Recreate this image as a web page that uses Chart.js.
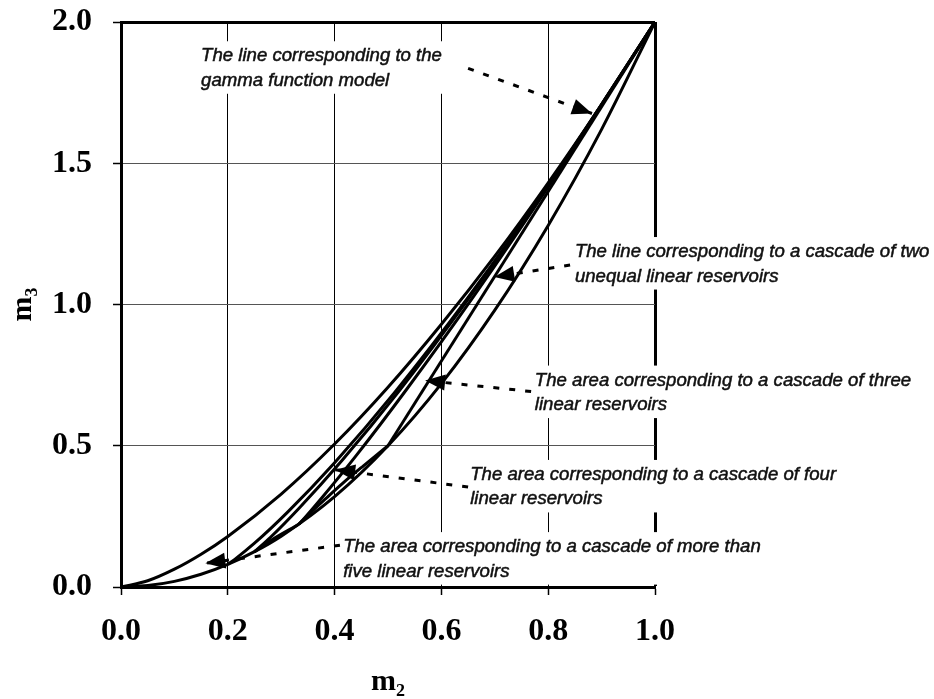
<!DOCTYPE html>
<html>
<head>
<meta charset="utf-8">
<script src="https://cdn.jsdelivr.net/npm/chart.js@4.4.1/dist/chart.umd.min.js"></script>
<style>
  html, body { margin: 0; padding: 0; background: #fff; }
</style>
</head>
<body>
<canvas id="chart" width="934" height="699"></canvas>
<script>
// ─── Values (m2 on x, m3 on y) ───────────────────────────────────────────────

const xTicks = [0, 0.2, 0.4, 0.6, 0.8, 1.0];
const yTicks = [0, 0.5, 1.0, 1.5, 2.0];

// upper envelope of all cascades
const upperM2 = [0, 0.05, 0.1, 0.15, 0.2, 0.3, 0.4, 0.5, 0.6, 0.7, 0.8, 0.9, 1.0];
const upperM3 = [0, 0.022, 0.063, 0.116, 0.179, 0.329, 0.506, 0.707, 0.930, 1.171, 1.431, 1.708, 2.0];

// gamma function model
const gammaM2 = [0, 0.05, 0.1, 0.15, 0.2, 0.25, 0.3, 0.4, 0.5, 0.6, 0.7, 0.8, 0.9, 1.0];
const gammaM3 = [0, 0.005, 0.02, 0.045, 0.08, 0.125, 0.18, 0.32, 0.5, 0.72, 0.98, 1.28, 1.62, 2.0];

// cascade of two unequal reservoirs
const twoM2 = [0.5, 1.0];
const twoM3 = [0.5, 2.0];

// cascade of three: upper and lower edges
const threeM2 = [0.333, 0.34, 0.375, 0.44, 0.535, 0.66, 0.815, 1.0];
const threeM3 = [0.222, 0.236, 0.313, 0.464, 0.70, 1.028, 1.459, 2.0];
const threeLowM2 = [0.333, 0.344, 0.36, 0.384, 0.415, 0.454, 0.5];
const threeLowM3 = [0.222, 0.242, 0.272, 0.314, 0.367, 0.429, 0.5];

// cascade of four
const fourM2 = [0.25, 0.253, 0.28, 0.333, 0.413, 0.52, 0.653, 0.813, 1.0];
const fourM3 = [0.125, 0.130, 0.176, 0.278, 0.446, 0.692, 1.026, 1.458, 2.0];
const fourLowM2 = [0.25, 0.28, 0.333];
const fourLowM3 = [0.125, 0.164, 0.222];

// cascade of five and more
const fiveM2 = [0.2, 0.2125, 0.25, 0.3125, 0.40, 0.5125, 0.65, 0.8125, 1.0];
const fiveM3 = [0.08, 0.097, 0.155, 0.266, 0.44, 0.689, 1.025, 1.458, 2.0];

// leader lines (start, arrow tip)
const leadGammaM2 = [0.65, 0.882];   const leadGammaM3 = [1.836, 1.676];
const leadTwoM2   = [0.841, 0.699];  const leadTwoM3   = [1.14, 1.097];
const leadThreeM2 = [0.768, 0.5695]; const leadThreeM3 = [0.692, 0.731];
const leadFourM2  = [0.65, 0.401];   const leadFourM3  = [0.354, 0.415];
const leadFiveM2  = [0.41, 0.158];   const leadFiveM3  = [0.148, 0.084];

const noteGamma = ['The line corresponding to the', 'gamma function model'];
const noteTwo   = ['The line corresponding to a cascade of two', 'unequal linear reservoirs'];
const noteThree = ['The area corresponding to a cascade of three', 'linear reservoirs'];
const noteFour  = ['The area corresponding to a cascade of four', 'linear reservoirs'];
const noteFive  = ['The area corresponding to a cascade of more than', 'five linear reservoirs'];

// ─── Helpers ─────────────────────────────────────────────────────────────────

const SERIF = '"Liberation Serif", "Times New Roman", serif';
const NOTE_FONT = 'italic 18.6px "Liberation Sans", Arial, sans-serif';
const NOTE_GAP = 24.5;

const pts = (xs, ys) => xs.map((v, i) => ({ x: v, y: ys[i] }));

const curve = (xs, ys) => ({
  data: pts(xs, ys), borderColor: '#000', borderWidth: 3, pointRadius: 0,
  cubicInterpolationMode: 'monotone', fill: false, clip: 4,
});

const leader = (xs, ys) => ({
  data: pts(xs, ys), borderColor: '#000', borderWidth: 3, pointRadius: 0,
  borderDash: [6, 10], tension: 0, fill: false, clip: false, arrow: true,
});

// note anchors: left edge / first baseline, in axis units
const notes = [
  { at: [0.150, 1.861], lines: noteGamma },
  { at: [0.850, 1.168], lines: noteTwo },
  { at: [0.775, 0.713], lines: noteThree },
  { at: [0.654, 0.379], lines: noteFour },
  { at: [0.416, 0.1235], lines: noteFive },
];

const notesPlugin = {
  id: 'notes',
  beforeDatasetsDraw(chart) {
    const { ctx, scales: { x, y } } = chart;
    ctx.save();
    ctx.font = NOTE_FONT;
    ctx.fillStyle = '#fff';
    for (const n of notes) {
      const px = x.getPixelForValue(n.at[0]);
      const py = y.getPixelForValue(n.at[1]);
      const w = Math.max(...n.lines.map(l => ctx.measureText(l).width));
      ctx.fillRect(px - 6, py - 20, w + 12, NOTE_GAP * (n.lines.length - 1) + 28);
    }
    ctx.restore();
  },
  afterDatasetsDraw(chart) {
    const { ctx, scales: { x, y } } = chart;
    ctx.save();
    ctx.fillStyle = '#000';
    chart.data.datasets.forEach((ds, i) => {
      if (!ds.arrow) return;
      const el = chart.getDatasetMeta(i).data;
      const a = el[el.length - 2], b = el[el.length - 1];
      const ang = Math.atan2(b.y - a.y, b.x - a.x);
      ctx.save();
      ctx.translate(b.x, b.y);
      ctx.rotate(ang);
      ctx.beginPath();
      ctx.moveTo(0, 0);
      ctx.lineTo(-20, -8);
      ctx.lineTo(-20, 8);
      ctx.closePath();
      ctx.fill();
      ctx.restore();
    });
    ctx.font = NOTE_FONT;
    ctx.fillStyle = '#111';
    ctx.strokeStyle = '#111';
    ctx.lineWidth = 0.5;
    ctx.textBaseline = 'alphabetic';
    for (const n of notes) {
      const px = x.getPixelForValue(n.at[0]);
      const py = y.getPixelForValue(n.at[1]);
      n.lines.forEach((l, k) => {
        ctx.fillText(l, px, py + k * NOTE_GAP);
        ctx.strokeText(l, px, py + k * NOTE_GAP);
      });
    }
    ctx.restore();
  },
};

const isVal = (v, t) => Math.abs(v - t) < 1e-6;

new Chart(document.getElementById('chart'), {
  type: 'line',
  data: {
    datasets: [
      curve(upperM2, upperM3),
      curve(gammaM2, gammaM3),
      curve(twoM2, twoM3),
      curve(threeM2, threeM3),
      curve(threeLowM2, threeLowM3),
      curve(fourM2, fourM3),
      curve(fourLowM2, fourLowM3),
      curve(fiveM2, fiveM3),
      leader(leadGammaM2, leadGammaM3),
      leader(leadTwoM2, leadTwoM3),
      leader(leadThreeM2, leadThreeM3),
      leader(leadFourM2, leadFourM3),
      leader(leadFiveM2, leadFiveM3),
    ],
  },
  options: {
    responsive: false,
    devicePixelRatio: 1,
    animation: false,
    layout: { padding: { top: 22, right: 279, bottom: 0, left: 0 } },
    plugins: { legend: { display: false }, tooltip: { enabled: false } },
    scales: {
      x: {
        type: 'linear', min: 0, max: 1,
        afterBuildTicks: s => { s.ticks = xTicks.map(v => ({ value: v })); },
        afterFit: s => { s.height = 112; s.paddingLeft = 0; s.paddingRight = 0; },
        ticks: {
          color: '#000', padding: 18,
          font: { family: SERIF, size: 32, weight: 'bold' },
          callback: v => v.toFixed(1),
        },
        grid: {
          color: '#000',
          lineWidth: c => (c.tick && isVal(c.tick.value, 1) ? 3 : 1),
          tickLength: 8, tickColor: '#000', tickWidth: 1.5,
        },
        border: { color: '#000', width: 3 },
        title: {
          display: true, text: 'm₂', color: '#000',
          font: { family: SERIF, size: 30, weight: 'bold', lineHeight: 1 },
          padding: { top: 0, bottom: 2 },
        },
      },
      y: {
        type: 'linear', min: 0, max: 2,
        afterBuildTicks: s => { s.ticks = yTicks.map(v => ({ value: v })); },
        afterFit: s => { s.width = 121; s.paddingTop = 0; s.paddingBottom = 0; },
        ticks: {
          color: '#000', padding: 21,
          font: { family: SERIF, size: 32, weight: 'bold' },
          callback: v => v.toFixed(1),
        },
        grid: {
          color: c => (c.tick && isVal(c.tick.value, 2) ? '#000' : '#555'),
          lineWidth: c => (c.tick && isVal(c.tick.value, 2) ? 3 : 1),
          tickLength: 8, tickColor: '#000', tickWidth: 1.5,
        },
        border: { color: '#000', width: 3 },
        title: {
          display: true, text: 'm₃', color: '#000',
          font: { family: SERIF, size: 30, weight: 'bold', lineHeight: 1 },
          padding: { top: 8, bottom: 0 },
        },
      },
    },
  },
  plugins: [notesPlugin],
});
</script>
</body>
</html>
